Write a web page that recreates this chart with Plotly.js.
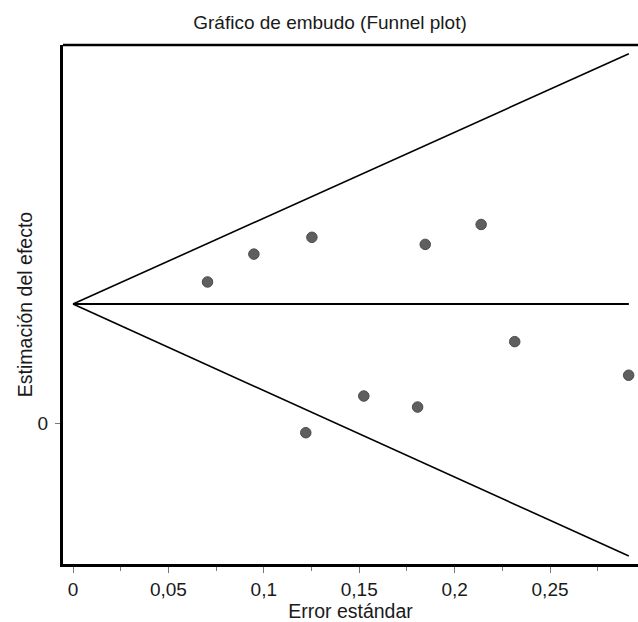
<!DOCTYPE html>
<html>
<head>
<meta charset="utf-8">
<script src="https://cdn.plot.ly/plotly-3.0.1.min.js"></script>
<style>html,body{margin:0;padding:0;background:#fff;}#chart{width:638px;height:622px;}</style>
</head>
<body>
<div id="chart"></div>
<script>
// Study data
const standardError = [0.0705, 0.0948, 0.1252, 0.1846, 0.2139, 0.2315, 0.2912, 0.1524, 0.1806, 0.1220];
const effectEstimate = [0.320, 0.383, 0.421, 0.405, 0.450, 0.185, 0.109, 0.062, 0.037, -0.021];

// Funnel (pooled estimate and limits)
const funnelSE = [0, 0.2913];
const pooledLine = [0.27, 0.27];
const upperLimit = [0.27, 0.836];
const lowerLimit = [0.27, -0.300];

// Tick labels
const xTickVals = [0, 0.05, 0.1, 0.15, 0.2, 0.25];
const xTickText = ['0', '0,05', '0,1', '0,15', '0,2', '0,25'];
const yTickVals = [0];
const yTickText = ['0'];

const FONT = 'Liberation Sans, Arial, sans-serif';
const lineStyle = {color: '#000', width: 1.6};

const traces = [
  {x: funnelSE, y: upperLimit, mode: 'lines', line: lineStyle, hoverinfo: 'skip'},
  {x: funnelSE, y: pooledLine, mode: 'lines', line: {color: '#000', width: 2}, hoverinfo: 'skip'},
  {x: funnelSE, y: lowerLimit, mode: 'lines', line: lineStyle, hoverinfo: 'skip'},
  {x: standardError, y: effectEstimate, mode: 'markers',
   marker: {symbol: 'circle', size: 10.5, color: '#5f5f5f', line: {color: '#4a4a4a', width: 1}}}
];

const layout = {
  width: 638, height: 622,
  margin: {l: 63, r: 0, t: 45, b: 58},
  paper_bgcolor: '#fff', plot_bgcolor: '#fff',
  showlegend: false,
  font: {family: FONT, size: 19, color: '#1a1a1a'},
  title: {text: 'Gráfico de embudo (Funnel plot)', font: {family: FONT, size: 19, color: '#1a1a1a'},
          xref: 'container', x: 330 / 638, xanchor: 'center',
          yref: 'container', y: 1 - 22 / 622, yanchor: 'middle'},
  xaxis: {
    range: [-0.00524, 0.2961],
    showgrid: false, zeroline: false,
    showline: true, linecolor: '#000', linewidth: 3,
    ticks: 'outside', ticklen: 6, tickcolor: '#777', tickwidth: 1,
    tickvals: xTickVals, ticktext: xTickText,
    minor: {tickvals: [0.025, 0.075, 0.125, 0.175, 0.225, 0.275], ticks: 'outside', ticklen: 4, tickcolor: '#777'},
    tickfont: {family: FONT, size: 19, color: '#1a1a1a'},
    title: {text: 'Error estándar', font: {family: FONT, size: 19.5, color: '#1a1a1a'}, standoff: 2},
    automargin: false, fixedrange: true
  },
  yaxis: {
    range: [-0.318, 0.856],
    showgrid: false, zeroline: false,
    showline: true, linecolor: '#000', linewidth: 3,
    ticks: 'outside', ticklen: 5, tickcolor: '#777', tickwidth: 1,
    tickvals: yTickVals, ticktext: yTickText,
    ticklabelstandoff: 3,
    tickfont: {family: FONT, size: 19, color: '#1a1a1a'},
    title: {text: 'Estimación del efecto', font: {family: FONT, size: 19.5, color: '#1a1a1a'}, standoff: 0},
    automargin: false, fixedrange: true
  },
  shapes: [
    {type: 'line', xref: 'paper', yref: 'paper', x0: 0, x1: 1, y0: 1, y1: 1, line: {color: '#000', width: 2.5}}
  ]
};

Plotly.newPlot('chart', traces, layout, {displayModeBar: false, staticPlot: true});
</script>
</body>
</html>
